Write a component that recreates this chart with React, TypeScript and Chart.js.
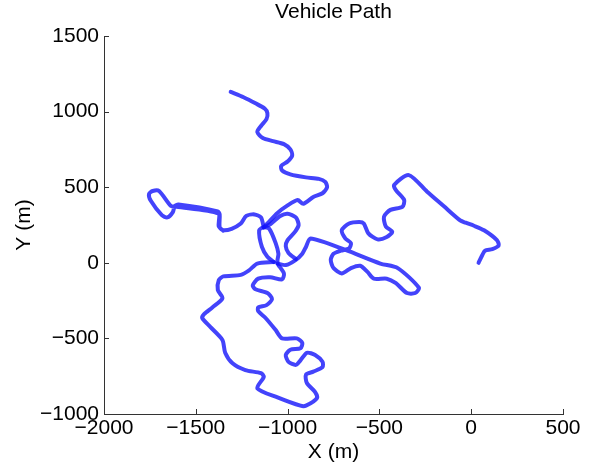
import React, { useEffect, useRef } from 'react';
import { Chart, registerables } from 'chart.js';

Chart.register(...registerables);

type Pt = [number, number];

const TITLE = 'Vehicle Path';
const X_LABEL = 'X (m)';
const Y_LABEL = 'Y (m)';
const X_MIN = -2000;
const X_MAX = 500;
const Y_MIN = -1000;
const Y_MAX = 1500;
const TICK_STEP = 500;

// Path pieces in metres, drawn as separate strokes so that crossings overlap.
const approachLeg: Pt[] = [
  [40, 0], [60, 50], [75, 80], [115, 90], [150, 115], [140, 150], [70, 215], [15, 245],
  [-30, 265], [-60, 280], [-150, 375], [-240, 470], [-340, 580], [-420, 515], [-410, 480],
  [-365, 415], [-375, 370], [-440, 350], [-475, 305], [-465, 240], [-430, 205], [-460, 170],
  [-510, 155], [-560, 195], [-585, 260], [-610, 270], [-665, 260], [-705, 215], [-685, 160],
  [-655, 130], [-665, 95], [-710, 80], [-750, 60], [-765, 20], [-750, -35], [-705, -70],
  [-655, -35], [-605, -20], [-565, -60], [-530, -105], [-460, -105], [-410, -135], [-350, -200],
  [-305, -200], [-285, -165], [-400, -35], [-495, -5], [-685, 85], [-875, 160], [-900, 105],
  [-920, 60], [-955, 20], [-1010, -15], [-1055, -5],
];

const sCurve: Pt[] = [
  [-955, 25], [-995, 65], [-1010, 110], [-1000, 150], [-960, 205], [-940, 250], [-955, 300],
  [-1000, 325], [-1040, 310], [-1095, 255], [-1130, 235],
];

const capsuleLoop: Pt[] = [
  [-1055, -5], [-1055, 20], [-1050, 60], [-1065, 130], [-1100, 225], [-1130, 235], [-1155, 215],
  [-1140, 105], [-1110, 40], [-1075, 5],
];

const southLoop: Pt[] = [
  [-1075, 5], [-1165, -5], [-1210, -50], [-1255, -80], [-1350, -90], [-1375, -115], [-1380, -180],
  [-1355, -235], [-1410, -295], [-1455, -340], [-1465, -365], [-1420, -425], [-1355, -510],
  [-1340, -595], [-1300, -665], [-1230, -710], [-1145, -730], [-1130, -755], [-1165, -830],
  [-1055, -890], [-930, -945], [-900, -945], [-840, -895], [-850, -855], [-895, -795], [-900, -740],
  [-860, -720], [-810, -690], [-810, -655], [-850, -610], [-895, -595], [-930, -645], [-955, -675],
  [-995, -655], [-1010, -610], [-985, -575], [-930, -565], [-920, -530], [-950, -500], [-1030, -500],
  [-1065, -445], [-1120, -365], [-1160, -320], [-1160, -295], [-1115, -280], [-1085, -240],
  [-1110, -200], [-1175, -175], [-1190, -150], [-1160, -105], [-1095, -95], [-1030, -110],
  [-1020, -70], [-1050, -15],
];

const westSpur: Pt[] = [
  [-1130, 235], [-1145, 300], [-1180, 320], [-1225, 310], [-1255, 260], [-1305, 225], [-1350, 215],
  [-1370, 235], [-1370, 320], [-1380, 340], [-1595, 385], [-1615, 375], [-1625, 335], [-1655, 300],
  [-1685, 315], [-1745, 410], [-1755, 455], [-1735, 475], [-1700, 475], [-1635, 375], [-1605, 370],
  [-1378, 326], [-1375, 240], [-1350, 212],
];

const northBranch: Pt[] = [
  [-1130, 235], [-1110, 260], [-1055, 330], [-1000, 380], [-945, 415], [-915, 390], [-860, 435],
  [-810, 460], [-785, 500], [-795, 535], [-830, 555], [-900, 565], [-985, 585], [-1030, 610],
  [-1035, 640], [-1000, 670], [-975, 710], [-985, 750], [-1020, 785], [-1080, 805], [-1135, 825],
  [-1165, 865], [-1145, 905], [-1115, 950], [-1110, 990], [-1125, 1020], [-1175, 1055],
  [-1240, 1095], [-1310, 1130],
];

const PATH_COLOR = 'rgba(20, 20, 250, 0.8)';
const AXIS_COLOR = '#333333';
const FONT_FAMILY = "'Liberation Sans', Arial, Helvetica, sans-serif";
const FONT_SIZE = 21;

const withMinus = (v: number | string) => String(v).replace('-', '\u2212');

// Inward tick marks and the title centred over the plot area.
const axisDecor = {
  id: 'axisDecor',
  afterDraw(chart: any) {
    const { ctx, chartArea: a, scales } = chart;
    const xs = scales.x;
    const ys = scales.y;
    ctx.save();
    ctx.strokeStyle = AXIS_COLOR;
    ctx.lineWidth = 1;
    ctx.beginPath();
    for (let v = X_MIN; v <= X_MAX; v += TICK_STEP) {
      const px = Math.round(xs.getPixelForValue(v)) + 0.5;
      ctx.moveTo(px, a.bottom);
      ctx.lineTo(px, a.bottom - 5);
    }
    for (let v = Y_MIN; v <= Y_MAX; v += TICK_STEP) {
      const py = Math.round(ys.getPixelForValue(v)) + 0.5;
      ctx.moveTo(a.left, py);
      ctx.lineTo(a.left + 5, py);
    }
    ctx.stroke();
    ctx.fillStyle = '#000';
    ctx.font = `${FONT_SIZE}px ${FONT_FAMILY}`;
    ctx.textAlign = 'center';
    ctx.textBaseline = 'middle';
    ctx.fillText(TITLE, (a.left + a.right) / 2, 12.5);
    ctx.restore();
  },
};

export default function App() {
  const ref = useRef<HTMLCanvasElement>(null);

  useEffect(() => {
    const canvas = ref.current;
    if (!canvas) return;
    const segments = [approachLeg, sCurve, capsuleLoop, southLoop, westSpur, northBranch];
    const font = { family: FONT_FAMILY, size: FONT_SIZE };
    const chart = new Chart(canvas, {
      type: 'scatter',
      data: {
        datasets: segments.map((seg) => ({
          data: seg.map(([x, y]) => ({ x, y })),
          showLine: true,
          borderColor: PATH_COLOR,
          borderWidth: 4,
          pointRadius: 0,
          tension: 0.25,
          borderCapStyle: 'round',
          borderJoinStyle: 'round',
          fill: false,
        })),
      },
      options: {
        responsive: false,
        animation: false,
        devicePixelRatio: 1,
        layout: { padding: { top: 36, right: 29, left: 0, bottom: 0 } },
        plugins: {
          legend: { display: false },
          tooltip: { enabled: false },
          title: { display: false },
        },
        scales: {
          x: {
            type: 'linear',
            min: X_MIN,
            max: X_MAX,
            afterFit: (s: any) => { s.height = 51; },
            grid: { display: false, drawTicks: false },
            border: { display: true, color: AXIS_COLOR, width: 1 },
            ticks: {
              stepSize: TICK_STEP,
              padding: 2,
              color: '#000',
              font,
              maxRotation: 0,
              autoSkip: false,
              callback: (v: any) => withMinus(v),
            },
            title: { display: true, text: X_LABEL, color: '#000', font, padding: { top: 0, bottom: 0 } },
          },
          y: {
            type: 'linear',
            min: Y_MIN,
            max: Y_MAX,
            afterFit: (s: any) => { s.width = 104; },
            grid: { display: false, drawTicks: false },
            border: { display: true, color: AXIS_COLOR, width: 1 },
            ticks: {
              stepSize: TICK_STEP,
              padding: 5,
              color: '#000',
              font,
              autoSkip: false,
              callback: (v: any) => withMinus(v),
            },
            title: { display: true, text: Y_LABEL, color: '#000', font, padding: { top: 12, bottom: 0 } },
          },
        },
      },
      plugins: [axisDecor],
    } as any);
    return () => chart.destroy();
  }, []);

  return (
    <div style={{ position: 'fixed', left: 0, top: 0, width: 592, height: 465, background: '#fff' }}>
      <canvas ref={ref} width={592} height={465} style={{ display: 'block' }} />
    </div>
  );
}
